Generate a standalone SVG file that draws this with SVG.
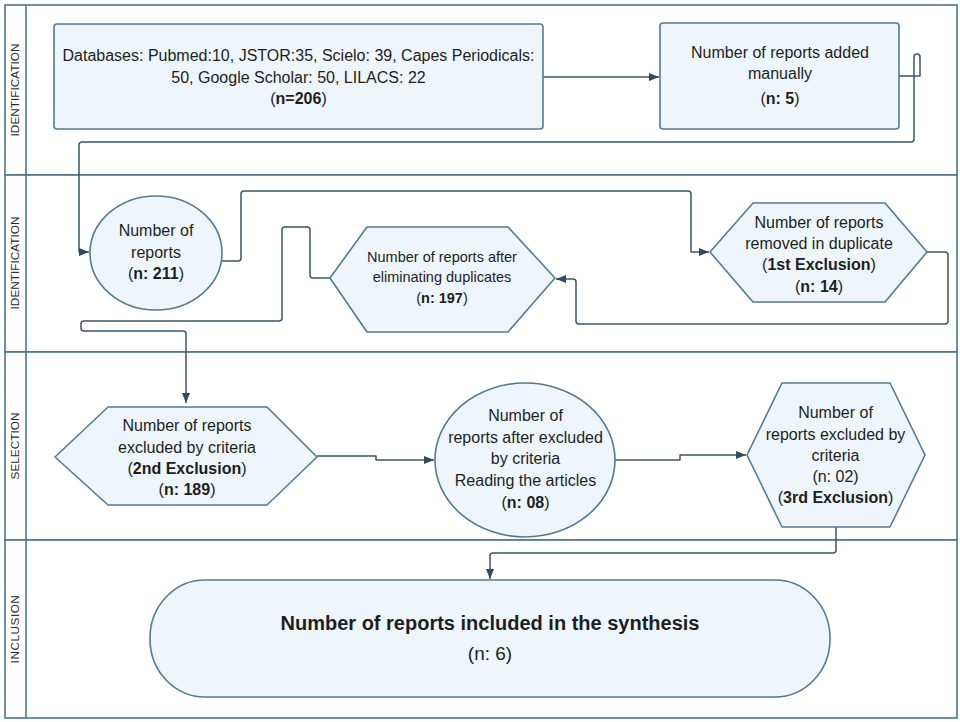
<svg xmlns="http://www.w3.org/2000/svg" width="960" height="722" viewBox="0 0 960 722">
<style>
.lane{fill:#ffffff;stroke:#4b7492;stroke-width:1.6}
.lbl{font-family:"Liberation Sans",Arial,sans-serif;font-size:11.8px;fill:#2a2a2a;text-anchor:middle}
.shape{fill:#eef6fb;stroke:#557a93;stroke-width:1.6;stroke-linejoin:round}
.t{font-family:"Liberation Sans",Arial,sans-serif;font-size:16px;fill:#1e1e1e;text-anchor:middle}
.s{font-size:14.5px}
.b{font-weight:bold}
.big{font-size:20px}
.med{font-size:19px}
.con{fill:none;stroke:#3c5668;stroke-width:1.5;stroke-linejoin:round}
</style>
<defs>
<marker id="ah" viewBox="0 0 10 8" refX="10" refY="4" markerWidth="10" markerHeight="8" markerUnits="userSpaceOnUse" orient="auto">
<path d="M0,0 L10,4 L0,8 z" fill="#2e4a62"/>
</marker>
</defs>
<rect width="960" height="722" fill="#ffffff"/>
<g id="lanes">
<rect class="lane" x="5" y="5" width="952" height="170"/>
<rect class="lane" x="5" y="175" width="952" height="177"/>
<rect class="lane" x="5" y="352" width="952" height="188"/>
<rect class="lane" x="5" y="540" width="952" height="178"/>
<line x1="26" y1="5" x2="26" y2="718" stroke="#4b7492" stroke-width="1.6"/>
<text class="lbl" transform="translate(18.5,90) rotate(-90)">IDENTIFICATION</text>
<text class="lbl" transform="translate(18.5,263) rotate(-90)">IDENTIFICATION</text>
<text class="lbl" transform="translate(18.5,446) rotate(-90)">SELECTION</text>
<text class="lbl" transform="translate(18.5,629) rotate(-90)" letter-spacing="0.5">INCLUSION</text>
</g>
<g id="connectors">
<path class="con" d="M543,77 H659" marker-end="url(#ah)"/>
<path class="con" d="M899,76 H920 V57 A3,3 0 0 0 914,57 V139 Q914,142 911,142 H82 Q79,142 79,145 V252 H89" marker-end="url(#ah)"/>
<path class="con" d="M222,261 H238 Q241,261 241,258 V194 Q241,191 244,191 H688 Q691,191 691,194 V252 H709" marker-end="url(#ah)"/>
<path class="con" d="M927,252 H945 Q948,252 948,255 V321 Q948,324 945,324 H579 Q576,324 576,321 V282 Q576,279 573,279 H556" marker-end="url(#ah)"/>
<path class="con" d="M330,278 H313 Q310,278 310,275 V230 Q310,227 307,227 H285 Q282,227 282,230 V318 Q282,321 279,321 H84 Q81,321 81,324 V328 Q81,331 84,331 H183 Q186,331 186,334 V403" marker-end="url(#ah)"/>
<path class="con" d="M317,456 H376 V460 H434" marker-end="url(#ah)"/>
<path class="con" d="M615,460 H680 V455 H746" marker-end="url(#ah)"/>
<path class="con" d="M836,527 V550 Q836,553 833,553 H493 Q490,553 490,556 V579" marker-end="url(#ah)"/>
</g>
<g id="n-databases">
<rect class="shape" x="54" y="24" width="489" height="105" rx="3"/>
<text class="t" x="298.5" y="61">Databases: Pubmed:10, JSTOR:35, Scielo: 39, Capes Periodicals:</text>
<text class="t" x="298.5" y="83">50, Google Scholar: 50, LILACS: 22</text>
<text class="t" x="298.5" y="104">(<tspan class="b">n=206</tspan>)</text>
</g>
<g id="n-manual">
<rect class="shape" x="660" y="23" width="239" height="106" rx="3"/>
<text class="t" x="780" y="58">Number of reports added</text>
<text class="t" x="780" y="79">manually</text>
<text class="t" x="780" y="104">(<tspan class="b">n: 5</tspan>)</text>
</g>
<g id="n-reports211">
<ellipse class="shape" cx="156" cy="253" rx="66" ry="57"/>
<text class="t" x="156" y="236">Number of</text>
<text class="t" x="156" y="258">reports</text>
<text class="t" x="156" y="279">(<tspan class="b">n: 211</tspan>)</text>
</g>
<g id="n-removed">
<polygon class="shape" points="710,252 753,203 885,203 927,252 885,302 753,302"/>
<text class="t" x="819" y="228">Number of reports</text>
<text class="t" x="819" y="249">removed in duplicate</text>
<text class="t" x="819" y="270">(<tspan class="b">1st Exclusion</tspan>)</text>
<text class="t" x="819" y="292">(<tspan class="b">n: 14</tspan>)</text>
</g>
<g id="n-after">
<polygon class="shape" points="330,278 367,227 508,227 555,278 508,332 367,332"/>
<text class="t s" x="442" y="262">Number of reports after</text>
<text class="t s" x="442" y="282">eliminating duplicates</text>
<text class="t s" x="442" y="303">(<tspan class="b">n: 197</tspan>)</text>
</g>
<g id="n-second">
<polygon class="shape" points="55,457 108,407 267,407 317,457 267,505 108,505"/>
<text class="t" x="187" y="431">Number of reports</text>
<text class="t" x="187" y="453">excluded by criteria</text>
<text class="t" x="187" y="474">(<tspan class="b">2nd Exclusion</tspan>)</text>
<text class="t" x="187" y="495">(<tspan class="b">n: 189</tspan>)</text>
</g>
<g id="n-reading">
<ellipse class="shape" cx="525" cy="460" rx="90" ry="77"/>
<text class="t" x="525.5" y="421">Number of</text>
<text class="t" x="525.5" y="443">reports after excluded</text>
<text class="t" x="525.5" y="464">by criteria</text>
<text class="t" x="525.5" y="486">Reading the articles</text>
<text class="t" x="525.5" y="508">(<tspan class="b">n: 08</tspan>)</text>
</g>
<g id="n-third">
<polygon class="shape" points="747,455 782,383 890,383 925,455 890,527 782,527"/>
<text class="t" x="835.5" y="418">Number of</text>
<text class="t" x="835.5" y="440">reports excluded by</text>
<text class="t" x="835.5" y="461">criteria</text>
<text class="t" x="835.5" y="482">(n: 02)</text>
<text class="t" x="835.5" y="503">(<tspan class="b">3rd Exclusion</tspan>)</text>
</g>
<g id="n-inclusion">
<rect class="shape" x="150" y="580" width="680" height="117" rx="55" ry="58"/>
<text class="t b big" x="490" y="630">Number of reports included in the synthesis</text>
<text class="t med" x="490" y="660">(n: 6)</text>
</g>
</svg>
